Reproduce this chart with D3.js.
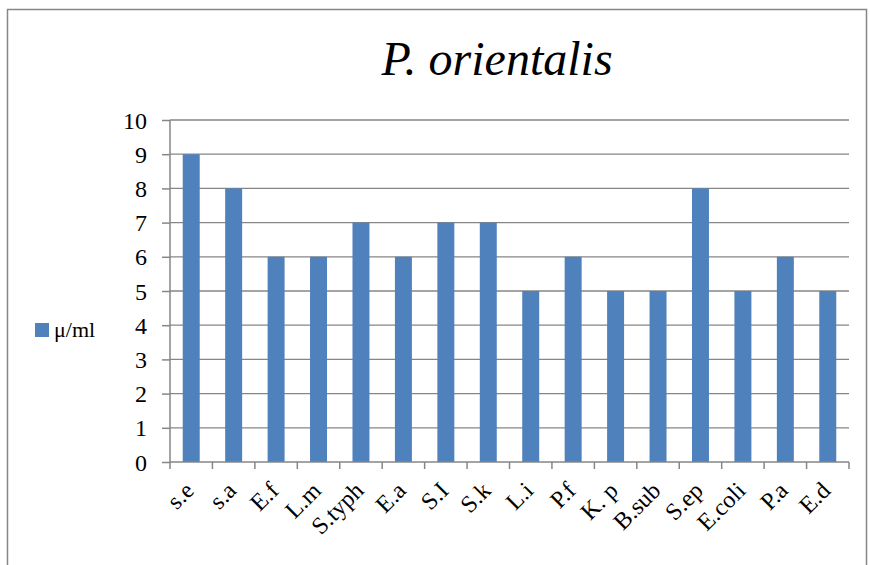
<!DOCTYPE html>
<meta charset="utf-8">
<style>
  body { margin: 0; background: #fff; }
  text { font-family: "Liberation Serif", "Times New Roman", serif; fill: #000; }
</style>
<body>
<script src="https://d3js.org/d3.v7.min.js"></script>
<script>
  var categories = ["s.e", "s.a", "E.f", "L.m", "S.typh", "E.a", "S.I", "S.k", "L.i", "P.f", "K. p", "B.sub", "S.ep", "E.coli", "P.a", "E.d"];
  var values = [9, 8, 6, 6, 7, 6, 7, 7, 5, 6, 5, 5, 8, 5, 6, 5];
  var yTicks = [0, 1, 2, 3, 4, 5, 6, 7, 8, 9, 10];
  var seriesName = "μ/ml";
  var title = "P. orientalis";

  var W = 870, H = 565;
  var plot = { left: 170, right: 849, top: 120, bottom: 462 };
  var grey = "#868686";

  var svg = d3.select("body").append("svg")
    .attr("width", W)
    .attr("height", H);

  // outer chart border
  svg.append("rect")
    .attr("x", 7.5).attr("y", 9.5)
    .attr("width", 859).attr("height", 600)
    .style("fill", "none")
    .style("stroke", grey)
    .style("stroke-width", 1.5);

  var x = d3.scaleBand().domain(categories).range([plot.left, plot.right]);
  var y = d3.scaleLinear().domain([0, 10]).range([plot.bottom, plot.top]);
  var barW = x.bandwidth() / 2.5;

  // gridlines
  svg.append("g")
    .selectAll("line")
    .data(yTicks.filter(function(d) { return d > 0; }))
    .enter().append("line")
    .attr("x1", plot.left).attr("x2", plot.right)
    .attr("y1", function(d) { return y(d); })
    .attr("y2", function(d) { return y(d); })
    .style("stroke", grey)
    .style("stroke-width", 1.3);

  // bars
  svg.append("g")
    .selectAll("rect")
    .data(values)
    .enter().append("rect")
    .attr("x", function(d, i) { return x(categories[i]) + (x.bandwidth() - barW) / 2; })
    .attr("y", function(d) { return y(d); })
    .attr("width", barW)
    .attr("height", function(d) { return y(0) - y(d); })
    .style("fill", "#4F81BD");

  // y axis
  var yAxis = svg.append("g")
    .attr("transform", "translate(" + plot.left + ",0)")
    .call(d3.axisLeft(y).tickValues(yTicks).tickSize(8).tickPadding(15).tickFormat(d3.format("d")));
  yAxis.selectAll("path, line").style("stroke", grey).style("stroke-width", 1.5);
  yAxis.select(".domain").attr("d", "M0," + plot.top + "V" + plot.bottom);
  yAxis.selectAll("text")
    .attr("font-family", null)
    .style("font-size", "24px")
    .attr("dy", "0.34em");

  // x axis
  var xAxis = svg.append("g")
    .attr("transform", "translate(0," + plot.bottom + ")");
  xAxis.append("line")
    .attr("x1", plot.left).attr("x2", plot.right)
    .style("stroke", grey).style("stroke-width", 1.5);
  xAxis.selectAll(".tk")
    .data(categories.concat(["end"]))
    .enter().append("line")
    .attr("class", "tk")
    .attr("x1", function(d, i) { return plot.left + i * x.bandwidth(); })
    .attr("x2", function(d, i) { return plot.left + i * x.bandwidth(); })
    .attr("y1", 0).attr("y2", 7)
    .style("stroke", grey).style("stroke-width", 1.5);
  xAxis.selectAll("text")
    .data(categories)
    .enter().append("text")
    .attr("transform", function(d) {
      return "translate(" + (x(d) + x.bandwidth() / 2 + 4) + ",30) rotate(-45)";
    })
    .attr("text-anchor", "end")
    .style("font-size", "24px")
    .text(function(d) { return d; });

  // title
  svg.append("text")
    .attr("x", 497).attr("y", 75)
    .attr("text-anchor", "middle")
    .style("font-size", "48px")
    .style("font-style", "italic")
    .text(title);

  // legend
  svg.append("rect")
    .attr("x", 35).attr("y", 323)
    .attr("width", 14).attr("height", 14)
    .style("fill", "#4F81BD");
  svg.append("text")
    .attr("x", 54).attr("y", 337)
    .style("font-size", "22px")
    .text(seriesName);
</script>
</body>
